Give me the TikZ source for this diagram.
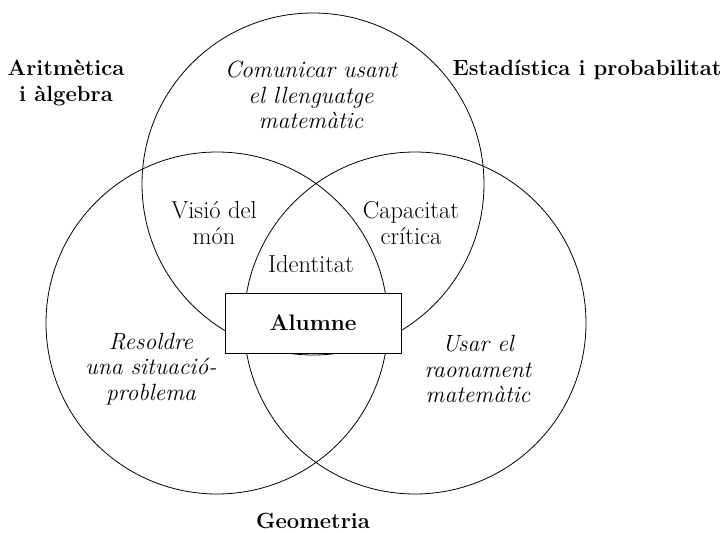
\documentclass[tikz,border=0pt]{standalone}
\begin{document}
\begin{tikzpicture}[x=1pt,y=-1pt,
  ring/.style={line width=0.8pt},
  field/.style={font=\fontsize{22}{25.6}\selectfont\bfseries, align=center},
  skill/.style={font=\fontsize{23.5}{25.6}\selectfont\itshape, align=center},
  zone/.style={font=\fontsize{24.5}{25.6}\selectfont, align=center}]
\useasboundingbox (0,0) rectangle (726,533);

% Circles
\draw[ring] (313,184) circle[radius=171pt];
\draw[ring] (217,323) circle[radius=171pt];
\draw[ring] (415,323) circle[radius=171pt];

% Fields
\node[field] (arit) at (66,83) {Aritmètica\\i àlgebra};
\node[field, anchor=east] (estad) at (725,70) {Estadística i probabilitat};
\node[field, inner sep=1pt] (geom) at (313,521) {Geometria};

% Skills
\node[skill] (comun) at (311,95) {Comunicar usant\\el llenguatge\\matemàtic};
\node[skill] (resol) at (151,369) {Resoldre\\una situació-\\problema};
\node[skill] (raon) at (478,369) {Usar el\\raonament\\matemàtic};

% Overlaps
\node[zone] (visio) at (214,223) {Visió del\\món};
\node[zone] (capac) at (411,223) {Capacitat\\crítica};
\node[zone] (ident) at (311,264) {Identitat};

% Student
\node[draw, fill=white, line width=1pt, minimum width=176pt, minimum height=60pt,
  font=\fontsize{22.5}{25.6}\selectfont\bfseries] (alumne) at (313,323) {Alumne};
\end{tikzpicture}
\end{document}
